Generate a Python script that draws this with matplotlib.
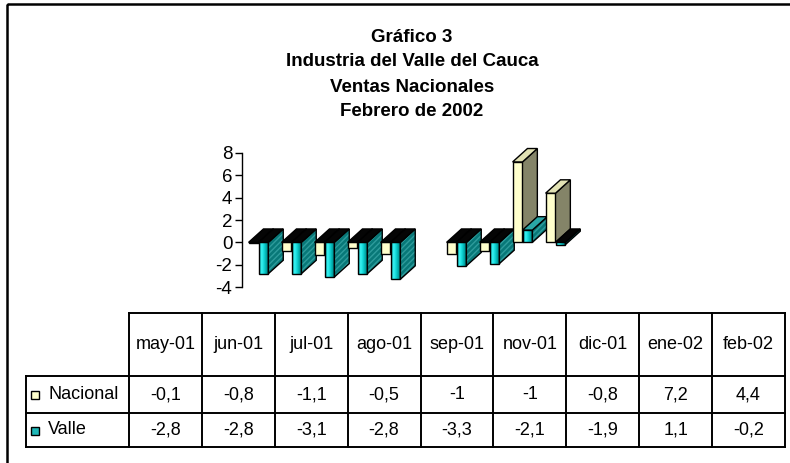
import numpy as np
import matplotlib
matplotlib.use("Agg")
import matplotlib.pyplot as plt
from matplotlib.patches import Rectangle, Polygon
from matplotlib.colors import LinearSegmentedColormap

plt.rcParams['font.family'] = ['Liberation Sans', 'DejaVu Sans']
plt.rcParams['axes.unicode_minus'] = False

# data
categories = ['may-01', 'jun-01', 'jul-01', 'ago-01', 'sep-01',
              'nov-01', 'dic-01', 'ene-02', 'feb-02']
nacional = [-0.1, -0.8, -1.1, -0.5, -1.0, -1.0, -0.8, 7.2, 4.4]
valle = [-2.8, -2.8, -3.1, -2.8, -3.3, -2.1, -1.9, 1.1, -0.2]
nacional_txt = ['-0,1', '-0,8', '-1,1', '-0,5', '-1', '-1', '-0,8', '7,2', '4,4']
valle_txt = ['-2,8', '-2,8', '-3,1', '-2,8', '-3,3', '-2,1', '-1,9', '1,1', '-0,2']
series_names = ['Nacional', 'Valle']
title_lines = ['Gráfico 3', 'Industria del Valle del Cauca',
               'Ventas Nacionales', 'Febrero de 2002']
yticks = [-4, -2, 0, 2, 4, 6, 8]

# Excel date axis: one slot per month, so October stays empty
meses = ['ene', 'feb', 'mar', 'abr', 'may', 'jun', 'jul', 'ago', 'sep', 'oct', 'nov', 'dic']
month_num = [meses.index(c.split('-')[0]) + 12 * int(c.split('-')[1]) for c in categories]
slots = [m - month_num[0] for m in month_num]

W, H = 790, 463
fig = plt.figure(figsize=(W / 100, H / 100), dpi=100)

# background axes in pixel units for frame, title and table
bg = fig.add_axes([0, 0, 1, 1])
bg.set_xlim(0, W)
bg.set_ylim(H, 0)
bg.axis('off')

bg.add_patch(Rectangle((7, 4), 800, 480, fill=False, lw=1.8, ec='black'))
for i, line in enumerate(title_lines):
    bg.text(412, 37 + 25 * i, line, ha='center', va='center',
            fontsize=13.5, fontweight='bold')

# --- bars (pseudo-3D) ---
ax = fig.add_axes([242 / W, (H - 290.4) / H, 360 / W, (290.4 - 134) / H])
ax.set_xlim(0, 360 / 33)
ax.set_ylim(-4.3, 9.7)
ax.patch.set_visible(False)
for s in ['top', 'right', 'bottom']:
    ax.spines[s].set_visible(False)
ax.spines['left'].set_bounds(-4, 8)
ax.spines['left'].set_linewidth(1)
ax.set_xticks([])
ax.set_yticks(yticks)
ax.set_yticklabels([str(t) for t in yticks])
ax.tick_params(axis='y', labelsize=13.5, length=5, width=1, pad=2)

bw, ddx, ddy = 0.3, 0.45, 1.2
teal_cmap = LinearSegmentedColormap.from_list(
    'teal', ['#00A3A3', '#3CF5F5', '#12D8D8', '#00A6A6', '#007C7C'])
grad = np.linspace(0, 1, 50).reshape(1, -1)

z = 2


def draw_bar(x0, v, front, side, top_pos, hatch_side=False, gradient=False):
    global z
    hi, lo = max(0, v), min(0, v)
    # front face
    if gradient:
        rect = Rectangle((x0, lo), bw, hi - lo, fc='none', ec='none')
        ax.add_patch(rect)
        im = ax.imshow(grad, cmap=teal_cmap, extent=(x0, x0 + bw, lo, hi),
                       aspect='auto', zorder=z, interpolation='bilinear')
        im.set_clip_path(rect)
        ax.add_patch(Rectangle((x0, lo), bw, hi - lo, fill=False, ec='black',
                               lw=1, zorder=z + 0.5))
    else:
        ax.add_patch(Rectangle((x0, lo), bw, hi - lo, fc=front, ec='black',
                               lw=1, zorder=z))
    # side face
    side_pts = [(x0 + bw, lo), (x0 + bw + ddx, lo + ddy),
                (x0 + bw + ddx, hi + ddy), (x0 + bw, hi)]
    if hatch_side:
        ax.add_patch(Polygon(side_pts, closed=True, fc=side, ec='#2E9C9C',
                             lw=0, hatch='//////', zorder=z + 1))
        ax.add_patch(Polygon(side_pts, closed=True, fill=False, ec='black',
                             lw=1, zorder=z + 1.5))
    else:
        ax.add_patch(Polygon(side_pts, closed=True, fc=side, ec='black',
                             lw=1, zorder=z + 1))
    # top face
    top_pts = [(x0, hi), (x0 + ddx, hi + ddy), (x0 + bw + ddx, hi + ddy),
               (x0 + bw, hi)]
    ax.add_patch(Polygon(top_pts, closed=True,
                         fc=top_pos if v > 0 else '#050505',
                         ec='black', lw=1, zorder=z + 2))
    z += 3


ax.spines['left'].set_zorder(1)
for s, vn, vv in zip(slots, nacional, valle):
    c = s + 0.5
    draw_bar(c - bw, vn, '#FFFFCC', '#848468', '#E2E2B4')
    draw_bar(c, vv, None, '#087878', '#2AA6A6', hatch_side=True, gradient=True)
ax.set_xlim(0, 360 / 33)
ax.set_ylim(-4.3, 9.7)

# --- data table ---
x_left, x_first, x_right = 26, 129, 785
col_w = (x_right - x_first) / len(categories)
y_top, y_head, y_mid, y_bot = 313, 376, 413, 447
lw = 1.4
fs = 13

bg.plot([x_first, x_right], [y_top, y_top], color='black', lw=lw)
for yy in [y_head, y_mid, y_bot]:
    bg.plot([x_left, x_right], [yy, yy], color='black', lw=lw)
bg.plot([x_left, x_left], [y_head, y_bot], color='black', lw=lw)
for i in range(len(categories) + 1):
    xx = x_first + i * col_w
    bg.plot([xx, xx], [y_top, y_bot], color='black', lw=lw)

for i, cat in enumerate(categories):
    cx = x_first + (i + 0.5) * col_w
    bg.text(cx, (y_top + y_head) / 2, cat, ha='center', va='center', fontsize=fs)
    bg.text(cx, (y_head + y_mid) / 2, nacional_txt[i], ha='center', va='center', fontsize=fs)
    bg.text(cx, (y_mid + y_bot) / 2, valle_txt[i], ha='center', va='center', fontsize=fs)

# legend keys inside the table
bg.add_patch(Rectangle((31, 391), 8, 8, fc='#FFFFCC', ec='black', lw=1))
bg.add_patch(Rectangle((31, 427), 8, 8, fc='#1FB8B8', ec='black', lw=1))
bg.text(48, (y_head + y_mid) / 2, series_names[0], ha='left', va='center', fontsize=fs)
bg.text(48, (y_mid + y_bot) / 2, series_names[1], ha='left', va='center', fontsize=fs)

fig.savefig('out.png', dpi=100)
